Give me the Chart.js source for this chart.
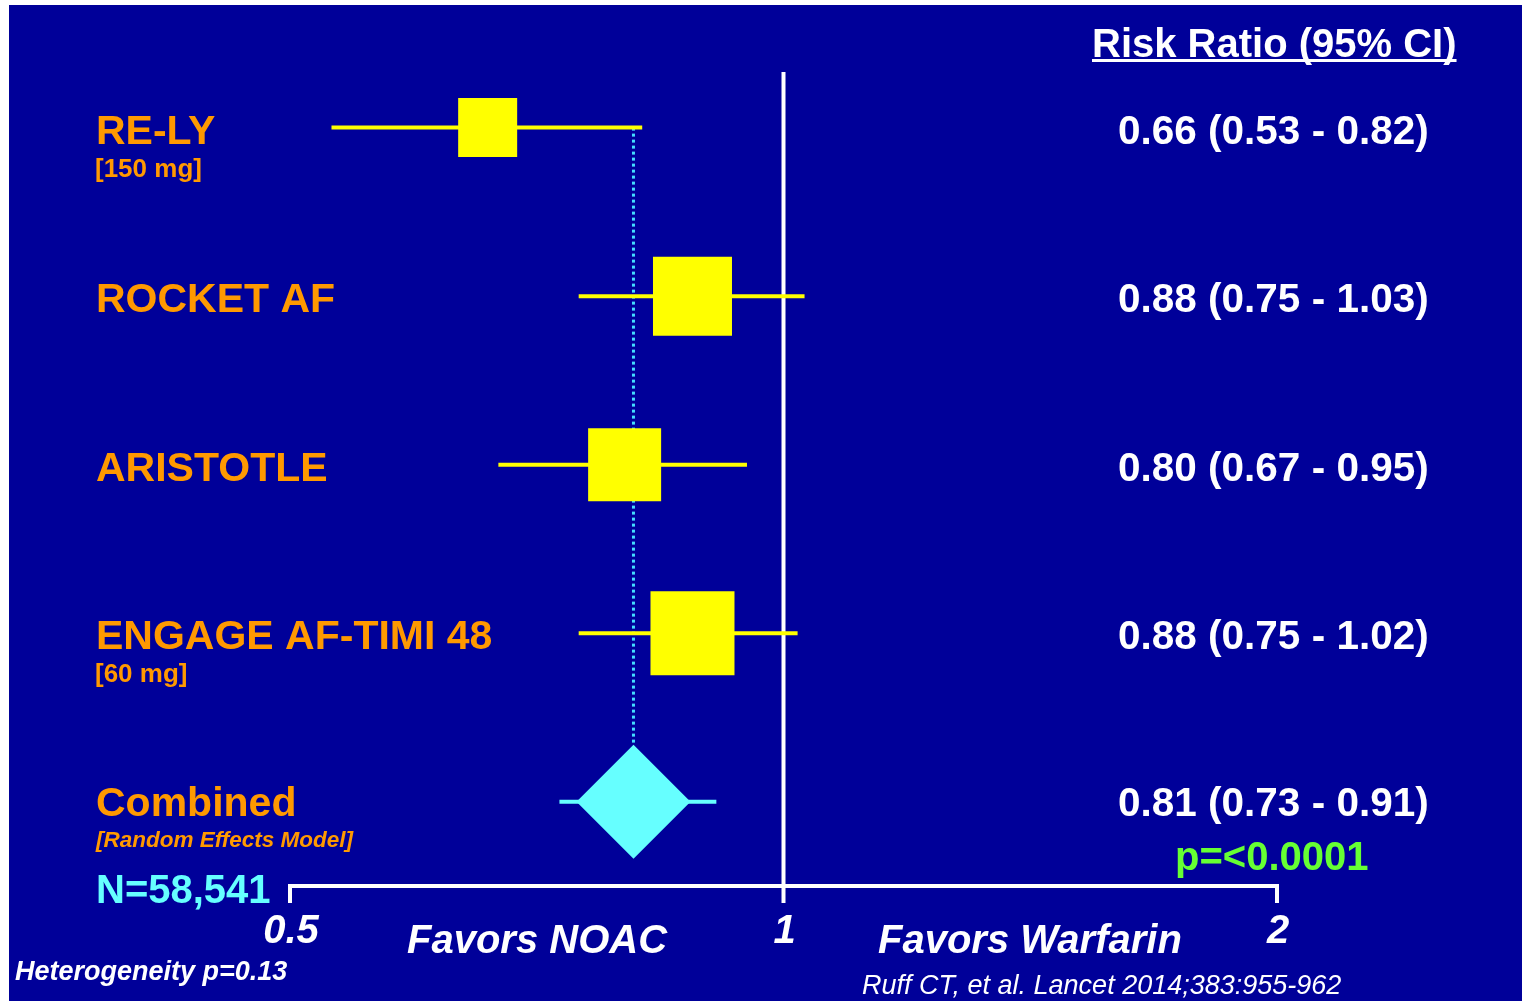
<!DOCTYPE html>
<html>
<head>
<meta charset="utf-8">
<script src="https://cdn.jsdelivr.net/npm/chart.js@4.4.1/dist/chart.umd.min.js"></script>
<style>
  html, body { margin: 0; padding: 0; background: #fff; }
  #wrap { position: absolute; left: 0; top: 0; width: 1522px; height: 1001px; }
</style>
</head>
<body>
<div id="wrap"><canvas id="forest"></canvas></div>
<script>
// trials, risk ratios and 95% CI
var trials   = ["RE-LY", "ROCKET AF", "ARISTOTLE", "ENGAGE AF-TIMI 48"];
var subNotes = ["[150 mg]", "", "", "[60 mg]"];
var rr       = [0.66, 0.88, 0.80, 0.88];
var ciLow    = [0.53, 0.75, 0.67, 0.75];
var ciHigh   = [0.82, 1.03, 0.95, 1.02];
var combined = { rr: 0.81, low: 0.73, high: 0.91 };
var xTicks   = [0.5, 1, 2];
var xTickLabels = ["0.5", "1", "2"];

var boxSide = [59, 79, 73, 84]; // square side in px (study weight)

var fontFam = '"Liberation Sans", Arial, sans-serif';
var ORANGE = '#FF9900', YELLOW = '#FFFF00', CYAN = '#66FFFF', BLUE = '#000099';

function fmt(v) { return v.toFixed(2); }

var forestPlugin = {
    id: 'forest',
    beforeDraw: function(chart) {
        var c = chart.ctx;
        c.save();
        c.fillStyle = '#ffffff';
        c.fillRect(0, 0, chart.width, chart.height);
        c.fillStyle = BLUE;
        c.fillRect(9, 5, chart.width - 9, chart.height - 5);
        c.restore();
    },
    beforeDatasetsDraw: function(chart) {
        var c = chart.ctx, x = chart.scales.x, y = chart.scales.y;
        var area = chart.chartArea;
        c.save();
        // dotted line at the combined estimate
        c.strokeStyle = '#44DDFF';
        c.lineWidth = 3;
        c.setLineDash([3, 3]);
        c.beginPath();
        c.moveTo(x.getPixelForValue(combined.rr), y.getPixelForValue(0));
        c.lineTo(x.getPixelForValue(combined.rr), y.getPixelForValue(trials.length) - 58);
        c.stroke();
        c.setLineDash([]);
        // line of no effect
        c.strokeStyle = '#ffffff';
        c.lineWidth = 4;
        c.beginPath();
        c.moveTo(x.getPixelForValue(1), area.top);
        c.lineTo(x.getPixelForValue(1), area.bottom + 17);
        c.stroke();
        // axis
        c.beginPath();
        c.moveTo(x.getPixelForValue(0.5), area.bottom + 17);
        c.lineTo(x.getPixelForValue(0.5), area.bottom);
        c.lineTo(x.getPixelForValue(2), area.bottom);
        c.lineTo(x.getPixelForValue(2), area.bottom + 17);
        c.stroke();
        // CI whiskers
        c.lineWidth = 4;
        c.strokeStyle = YELLOW;
        for (var i = 0; i < trials.length; i++) {
            var py = y.getPixelForValue(i);
            c.beginPath();
            c.moveTo(x.getPixelForValue(ciLow[i]), py);
            c.lineTo(x.getPixelForValue(ciHigh[i]), py);
            c.stroke();
        }
        c.strokeStyle = CYAN;
        var cy = y.getPixelForValue(trials.length);
        c.beginPath();
        c.moveTo(x.getPixelForValue(combined.low), cy);
        c.lineTo(x.getPixelForValue(combined.high), cy);
        c.stroke();
        c.restore();
    },
    afterDraw: function(chart) {
        var c = chart.ctx, x = chart.scales.x, y = chart.scales.y;
        var area = chart.chartArea;
        c.save();
        c.textBaseline = 'alphabetic';
        // row labels
        c.textAlign = 'left';
        for (var i = 0; i < trials.length; i++) {
            var py = y.getPixelForValue(i);
            c.fillStyle = ORANGE;
            c.font = 'bold 41px ' + fontFam;
            c.fillText(trials[i], 96, py + 16);
            if (subNotes[i]) {
                c.font = 'bold 26px ' + fontFam;
                c.fillText(subNotes[i], 95, py + 49);
            }
            c.fillStyle = '#ffffff';
            c.font = 'bold 40.5px ' + fontFam;
            c.fillText(fmt(rr[i]) + ' (' + fmt(ciLow[i]) + ' - ' + fmt(ciHigh[i]) + ')', 1118, py + 16);
        }
        var cy = y.getPixelForValue(trials.length);
        c.fillStyle = ORANGE;
        c.font = 'bold 41px ' + fontFam;
        c.fillText('Combined', 96, cy + 14);
        c.font = 'italic bold 22.5px ' + fontFam;
        c.fillText('[Random Effects Model]', 96, cy + 45);
        c.fillStyle = '#ffffff';
        c.font = 'bold 40.5px ' + fontFam;
        c.fillText(fmt(combined.rr) + ' (' + fmt(combined.low) + ' - ' + fmt(combined.high) + ')', 1118, cy + 14);
        c.fillStyle = '#66FF33';
        c.font = 'bold 40px ' + fontFam;
        c.fillText('p=<0.0001', 1175, cy + 68);
        c.fillStyle = CYAN;
        c.fillText('N=58,541', 96, area.bottom + 17);

        // header
        c.fillStyle = '#ffffff';
        c.fillText('Risk Ratio (95% CI)', 1092, 57);
        var hw = c.measureText('Risk Ratio (95% CI)').width;
        c.fillRect(1092, 59, hw, 3);

        // axis tick labels
        c.textAlign = 'center';
        c.font = 'italic bold 40px ' + fontFam;
        for (var t = 0; t < xTicks.length; t++) {
            c.fillText(xTickLabels[t], x.getPixelForValue(xTicks[t]) + 1, area.bottom + 57);
        }
        c.textAlign = 'left';
        c.fillText('Favors NOAC', 407, area.bottom + 67);
        c.fillText('Favors Warfarin', 878, area.bottom + 67);
        c.font = 'italic bold 27px ' + fontFam;
        c.fillText('Heterogeneity p=0.13', 15, 980);
        c.font = 'italic 27px ' + fontFam;
        c.fillText('Ruff CT, et al. Lancet 2014;383:955-962', 862, 994);
        c.restore();
    }
};

var studyPoints = rr.map(function(v, i) { return { x: v, y: i }; });

var chart = new Chart(document.getElementById('forest'), {
    type: 'scatter',
    data: {
        datasets: [{
            label: 'studies',
            data: studyPoints,
            pointStyle: 'rect',
            pointRadius: boxSide.map(function(s) { return s / (2 * Math.SQRT1_2); }),
            pointHoverRadius: boxSide.map(function(s) { return s / (2 * Math.SQRT1_2); }),
            backgroundColor: YELLOW,
            borderWidth: 0
        }, {
            label: 'combined',
            data: [{ x: combined.rr, y: trials.length }],
            pointStyle: 'rectRot',
            pointRadius: 57,
            pointHoverRadius: 57,
            backgroundColor: CYAN,
            borderWidth: 0
        }]
    },
    options: {
        responsive: true,
        maintainAspectRatio: false,
        animation: false,
        events: [],
        layout: { padding: { left: 290, right: 245, top: 72, bottom: 115 } },
        plugins: { legend: { display: false }, tooltip: { enabled: false } },
        scales: {
            x: { type: 'logarithmic', min: 0.5, max: 2, display: false },
            y: { type: 'linear', min: -0.33, max: 4.5, reverse: true, display: false }
        }
    },
    plugins: [forestPlugin]
});
</script>
</body>
</html>
